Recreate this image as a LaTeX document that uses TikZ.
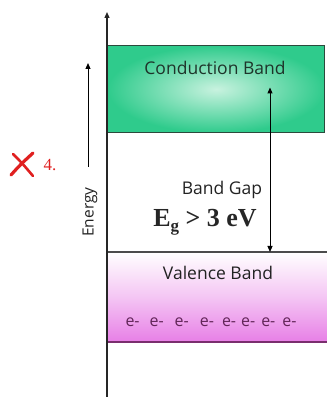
\documentclass[tikz,border=0pt]{standalone}
\usepackage{fontspec}
\setmainfont{Open Sans}
\newfontfamily\serifb{Liberation Serif}
\usetikzlibrary{arrows.meta,calc}
\definecolor{cbgreen}{HTML}{2FCB8C}
\definecolor{cblight}{HTML}{C8F2DF}
\definecolor{cbedge}{HTML}{2B4A3C}
\definecolor{vbpink}{HTML}{E77FE6}
\definecolor{vbedge}{HTML}{7A2E6E}
\definecolor{txt}{HTML}{222222}
\definecolor{xred}{HTML}{E02020}
\tikzset{
  axisline/.style={line width=1.3pt, draw=black!85},
  arr/.style={-{Triangle[length=6pt,width=5pt]}},
  lbl/.style={font=\fontsize{17.5}{20}\selectfont, text=txt},
}
\begin{document}
\begin{tikzpicture}[x=1pt,y=1pt]
\useasboundingbox (0,0) rectangle (327,397);
% conduction band
\node (cb) [draw=cbedge, line width=1.4pt, minimum width=217pt, minimum height=87pt,
  inner sep=0pt, anchor=north west, shading=radial, inner color=cblight, outer color=cbgreen]
  at (107,352) {};
\node (cbl) [lbl, text=cbedge!70!black] at (215,329) {Conduction Band};
% valence band
\shade[top color=white, bottom color=vbpink, middle color=white!55!vbpink] (107,145) rectangle (327,55);
\node (vb) [minimum width=220pt, minimum height=90pt, inner sep=0pt, anchor=north west] at (107,145) {};
\draw[line width=1.2pt, draw=black!70] (vb.north west) -- (vb.north east);
\draw[line width=2pt, draw=vbedge] (vb.south west) -- (vb.south east);
\node (vbl) [lbl] at (218,124) {Valence Band};
\node (el) [font=\fontsize{16}{18}\selectfont, text=vbedge!80!black] at (211,75) {e-\hspace{10pt}e-\hspace{11pt}e-\hspace{11pt}e-\hspace{8pt}e-\hspace{5pt}e-\hspace{6pt}e-\hspace{7pt}e-};
% axis
\coordinate (ab) at (107,0);
\coordinate (at) at (107,385);
\draw[axisline, arr] (ab) -- (at);
% energy arrow
\coordinate (eb) at (88,230);
\coordinate (et) at (88,334);
\draw[line width=1pt, arr] (eb) -- (et);
\node (en) [rotate=90, font=\fontsize{15.5}{17}\selectfont, text=txt] at (90,185) {Energy};
% band gap
\coordinate (gt) at (270,309.5);
\coordinate (gb) at (270,145);
\draw[line width=1pt, {Triangle[length=6pt,width=5pt]}-{Triangle[length=6pt,width=5pt]}] (gt) -- (gb);
\node (bg) [lbl] at (222,207) {Band Gap};
\node (eg) [font=\serifb\bfseries\fontsize{26}{28}\selectfont, text=black!85] at (205,175) {E\raisebox{-0.45ex}{\fontsize{17}{18}\selectfont g} > 3 eV};
% mark
\coordinate (x1) at (11,222);
\coordinate (x2) at (33,244);
\coordinate (x3) at (13,243);
\coordinate (x4) at (33,221);
\draw[xred, line width=3.2pt, line cap=round] (x1) .. controls (20,232) .. (x2);
\draw[xred, line width=2.6pt, line cap=round] (x3) .. controls (22,234) .. (x4);
\node (four) [text=xred, font=\serifb\fontsize{17}{19}\selectfont] at (50,232) {4.};
\end{tikzpicture}
\end{document}
